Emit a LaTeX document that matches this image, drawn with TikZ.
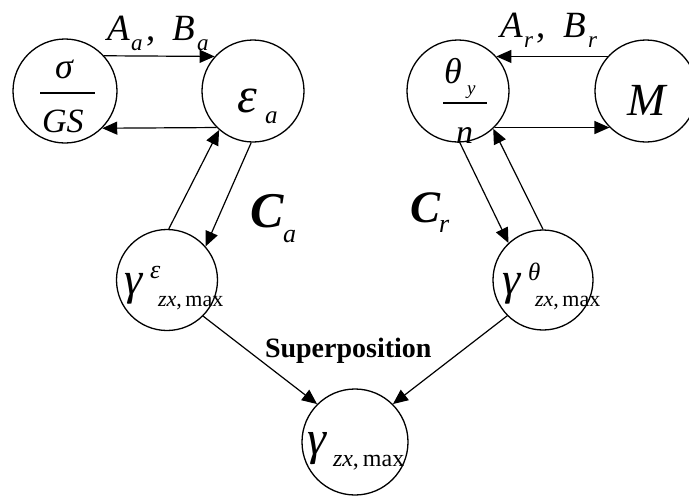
\documentclass[tikz,border=0pt]{standalone}
\usepackage{fontspec}
\setmainfont{Liberation Serif}
\usetikzlibrary{arrows.meta}
\newcommand\fsz[1]{\fontsize{#1}{#1}\selectfont}
\begin{document}
\begin{tikzpicture}[x=1pt,y=-1pt,
  circ/.style={circle,draw,line width=1.3pt,inner sep=0pt},
  conn/.style={line width=1.2pt,-{Triangle[length=15pt,width=13pt]}},
  lbl/.style={anchor=base west,inner sep=0pt,outer sep=0pt}]
\useasboundingbox (0,0) rectangle (689,496);
\begin{scope}
\clip (0,0) rectangle (689,496);
% circles
\node[circ,minimum size=104pt] (s) at (65,91) {};
\node[circ,minimum size=102pt] (e) at (253,91) {};
\node[circ,minimum size=102pt] (t) at (458,91) {};
\node[circ,minimum size=102pt] (m) at (646,91) {};
\node[circ,minimum size=101pt] (ge) at (167,280) {};
\node[circ,minimum size=100pt] (gt) at (543,280) {};
\node[circ,minimum size=106pt] (g) at (355,442) {};
\end{scope}
% connectors
\draw[conn] (s.42) -- (e.138);
\draw[conn] (e.-135) -- (s.-45);
\draw[conn] (m.138) -- (t.42);
\draw[conn] (t.-45) -- (m.-135);
\draw[conn] (ge.88) -- (e.-131);
\draw[conn] (e.-92) -- (ge.41);
\draw[conn] (t.-88) -- (gt.133);
\draw[conn] (gt.90) -- (t.-47);
\draw[conn] (ge.-45) -- (g.135);
\draw[conn] (gt.-135) -- (g.45);
% sigma / GS
\node[lbl] (sig) at (55,78) {\fsz{36}\textit{σ}};
\coordinate (sb1) at (40,93);
\coordinate (sb2) at (95,93);
\draw[line width=1.2pt] (sb1) -- (sb2);
\node[lbl] (gs) at (42,132) {\fsz{34}\textit{GS}};
% eps_a
\node[lbl] (eps) at (237,112) {\fsz{50}\textit{ε}};
\node[lbl] (epsa) at (265,123) {\fsz{25}\textit{a}};
% A_a, B_a
\node[lbl] (aa) at (107,40) {\fsz{37}\textit{A}};
\node[lbl] (aas) at (131,50) {\fsz{23}\textit{a}};
\node[lbl] (cm) at (146,40) {\fsz{37},};
\node[lbl] (bb) at (172,40) {\fsz{37}\textit{B}};
\node[lbl] (bbs) at (197,50) {\fsz{23}\textit{a}};
% A_r, B_r
\node[lbl] (ar) at (500,37) {\fsz{37}\textit{A}};
\node[lbl] (ars) at (524,47) {\fsz{23}\textit{r}};
\node[lbl] (cm2) at (536,37) {\fsz{37},};
\node[lbl] (br) at (563,37) {\fsz{37}\textit{B}};
\node[lbl] (brs) at (588,47) {\fsz{23}\textit{r}};
% theta_y / n
\node[lbl] (th) at (444,83) {\fsz{36}\textit{θ}};
\node[lbl] (thy) at (467,94) {\fsz{19}\textit{y}};
\coordinate (tb1) at (443,103);
\coordinate (tb2) at (487,103);
\draw[line width=1.2pt] (tb1) -- (tb2);
\node[lbl] (nn) at (456,143) {\fsz{34}\textit{n}};
% M
\node[lbl] (mm) at (627,115) {\fsz{46}\textit{M}};
% C_a, C_r
\node[lbl] (ca) at (250,227) {\fsz{50}\textbf{\textit{C}}};
\node[lbl] (cas) at (283,242) {\fsz{26}\textit{a}};
\node[lbl] (cr) at (410,222) {\fsz{45}\textbf{\textit{C}}};
\node[lbl] (crs) at (439,232) {\fsz{26}\textit{r}};
% gamma eps
\node[lbl] (g1) at (124,294) {\fsz{46}\textit{γ}};
\node[lbl] (g1s) at (150,278) {\fsz{26}\textit{ε}};
\node[lbl] (g1b) at (158,306) {\fsz{22}\textit{zx},\,max};
% gamma theta
\node[lbl] (g2) at (502,294) {\fsz{46}\textit{γ}};
\node[lbl] (g2s) at (528,280) {\fsz{25}\textit{θ}};
\node[lbl] (g2b) at (535,306) {\fsz{22}\textit{zx},\,max};
% gamma bottom
\node[lbl] (g3) at (307,454) {\fsz{48}\textit{γ}};
\node[lbl] (g3b) at (333,466) {\fsz{24}\textit{zx},\,max};
% superposition
\node[lbl] (sup) at (265,357) {\fsz{28}\textbf{Superposition}};
\end{tikzpicture}
\end{document}
